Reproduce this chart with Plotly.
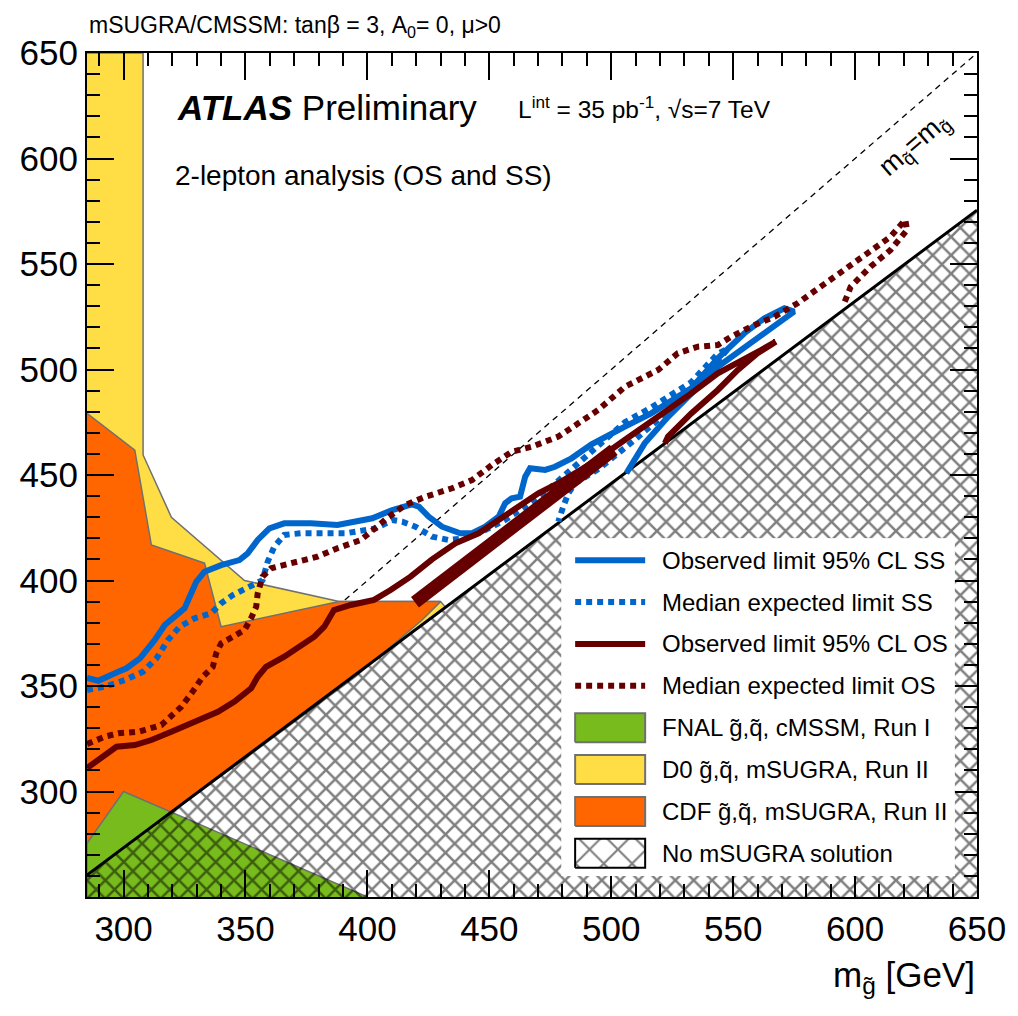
import plotly.graph_objects as go

# ---------------------------------------------------------------------------
# Data: gluino mass (x) vs squark mass (y), both in GeV
# ---------------------------------------------------------------------------
# Earlier exclusion regions (polygons)
d0_x = [285, 308, 308, 319.6, 349.6, 388.4, 430, 432, 285]
d0_y = [650, 650, 459.5, 430, 400, 390, 390, 387.4, 260.4]

cdf_x = [285, 304.6, 311.4, 333.2, 340, 388.4, 430, 422.4, 395, 285]
cdf_y = [479.2, 461.8, 416.8, 408.2, 378.1, 390, 390, 381.3, 354.3, 260.4]

fnal_x = [285, 285, 300, 400]
fnal_y = [250, 275.5, 300, 250]

# Region without a valid mSUGRA solution
nosol_x = [285, 650, 650, 285]
nosol_y = [260.4, 575.5, 250, 250]
bound_x = [285, 650]
bound_y = [260.4, 575.5]

# m_squark = m_gluino reference line
diag = [285, 650]

# Same-sign 2-lepton limits
obs_ss_x = [285, 289.6, 297.8, 301.2, 306.7, 312.8, 316.9, 321, 325, 327.1, 329.8, 333.2,
            340, 347.5, 350.9, 355, 359.8, 365.9, 376.8, 387.7, 395.9, 402, 410.2, 418.3,
            421.1, 425.2, 430.6, 438.1, 442.9, 448.3, 453.8, 456.5, 459.2, 462.6, 464.7,
            466.7, 472.9, 476.9, 483.7, 491.9, 505.6, 516.4, 532.8, 543.7, 554.6, 562.8,
            571, 575, 565.5, 554.6, 543.7, 532.8, 523.3, 513.7, 506.2]
obs_ss_y = [353.8, 352.5, 356.8, 358.4, 363.1, 371.8, 378.9, 382.8, 386.8, 392.3, 399.4, 404.2,
            407.3, 409.7, 412.9, 419.2, 424.7, 427.1, 427.1, 426.3, 427.9, 429.5, 433.4, 436.1,
            435, 430.2, 425.5, 422.4, 422.4, 425.5, 430.2, 436.6, 439, 439.7, 449.2,
            453.2, 452.4, 453.9, 457.9, 464.5, 472.9, 479.2, 491.1, 505.3, 517.2, 524.3,
            529, 527.4, 519.5, 510.8, 501.3, 488.5, 477.6, 465, 450.8]

exp_ss_x = [285, 292.4, 300.5, 308, 313.5, 318.2, 323, 329.1, 336, 340, 344.8, 352.3, 357,
            359.1, 361.8, 365.9, 372.7, 391.1, 403.4, 410.2, 414.3, 419.7, 426.5, 433.3,
            440.2, 448.3, 456.5, 464.7, 471, 480, 492, 505.6, 516.4, 532.8, 543.7, 548,
            540, 530, 510, 495, 485, 482.4, 480.3, 478.3]
exp_ss_y = [348.1, 349.7, 352.8, 356.8, 363.1, 371.8, 378.1, 382.1, 384.5, 389.2, 393.1, 397.1,
            400.2, 408.9, 416, 421.6, 422.4, 422.4, 424.7, 428.7, 427.9, 425.5, 420.8, 419.2,
            420, 423.9, 428.7, 435, 440, 449, 461, 475, 482, 494, 507.5, 510,
            499, 487, 467, 453, 446, 441.3, 435, 427.9]

# Opposite-sign 2-lepton limits
obs_os_x = [285, 291, 297.1, 304.6, 311.4, 319.6, 329.1, 338.7, 345.5, 352.3, 355, 358.4,
            365.9, 371.4, 378.2, 382.3, 386.3, 393.2, 402.7, 409.5, 417.7, 426.5, 436.1,
            445.6, 453.8, 462, 470.1, 478.3, 486.5, 491.9, 505.5, 519.2, 532.8, 543.7,
            554.6, 561.4, 567.5, 560, 551.9, 543.7, 532.8, 523.3, 522]
obs_os_y = [311.1, 316.5, 321.2, 322, 324.4, 328.3, 333.1, 337.8, 342.6, 348.9, 354.4, 359.1,
            363.9, 367.9, 373.4, 378.1, 386, 388.4, 390.8, 395.5, 401.8, 410, 417.6,
            422.4, 428.7, 435, 441.3, 446.1, 451.6, 455.5, 466.6, 477.6, 488.7, 498.2,
            504.5, 509.2, 513.2, 507.7, 499.8, 490.3, 479.2, 468.2, 465]
obs_os_band_x = [419.5, 460, 501]
obs_os_band_y = [389.7, 425.6, 461.9]

exp_os_x = [285, 292.4, 297.8, 306, 315.5, 320.3, 323.7, 327.8, 332.5, 336.6, 338, 340, 344.1,
            349.6, 352.3, 354.4, 355, 357, 360.5, 365.9, 372.7, 379.5, 387.7, 397.3, 400.7,
            408.8, 415.6, 423.8, 434.7, 442.9, 451, 459.2, 467.4, 478.3, 486.5, 494.6,
            505.6, 519.2, 527.3, 535.5, 543.7, 549.1, 557.3, 566.9, 576.4, 585.9, 595.5,
            605, 614.5, 620.6, 621.3, 614.5, 606.3, 598.2, 595.5]
exp_os_y = [322.5, 326, 327.6, 328.3, 331.5, 336.3, 340.2, 346.5, 354.4, 359.1, 365.5, 370.2,
            372.6, 376.5, 382.1, 387.6, 393.9, 401.8, 405.8, 407.3, 409.7, 411.3, 415.3,
            419.2, 422.4, 430.2, 435.8, 439.7, 443.7, 447.6, 454.7, 461, 463.4, 468.2,
            474.5, 480.8, 491.8, 499.8, 507.7, 510.8, 511.6, 515.5, 520.3, 525, 531.4,
            539.2, 547.2, 555.1, 562.9, 570.9, 566.1, 556.6, 548.7, 539.2, 531.4]

x_ticks = [300, 350, 400, 450, 500, 550, 600, 650]
y_ticks = [300, 350, 400, 450, 500, 550, 600, 650]

legend_labels = [
    "Observed limit 95% CL SS",
    "Median expected limit SS",
    "Observed limit 95% CL OS",
    "Median expected limit OS",
    "FNAL g\u0303,q\u0303, cMSSM, Run I",
    "D0 g\u0303,q\u0303, mSUGRA, Run II",
    "CDF g\u0303,q\u0303, mSUGRA, Run II",
    "No mSUGRA solution",
]

# ---------------------------------------------------------------------------
# Styling
# ---------------------------------------------------------------------------
FONT = "Liberation Sans, Arial, Helvetica, sans-serif"
BLUE = "#0066cc"
DRED = "#660000"
ORANGE = "#ff6600"
YELLOW = "#ffdd44"
GREEN = "#77bb1c"
EDGE = "#707070"
DOT = "6px,5px"

fig = go.Figure()

fig.add_trace(go.Scatter(x=diag, y=diag, mode="lines",
                         line=dict(color="black", width=1.3, dash="6px,5px"),
                         hoverinfo="skip"))
for xs, ys, col in [(d0_x, d0_y, YELLOW), (cdf_x, cdf_y, ORANGE), (fnal_x, fnal_y, GREEN)]:
    fig.add_trace(go.Scatter(x=xs, y=ys, mode="lines", fill="toself", fillcolor=col,
                             line=dict(color=EDGE, width=1.5)))
fig.add_trace(go.Scatter(x=nosol_x, y=nosol_y, mode="lines", fill="toself",
                         fillcolor="rgba(0,0,0,0)", line=dict(width=0),
                         fillpattern=dict(shape="x", size=13, solidity=0.35,
                                          fgcolor="black", bgcolor="rgba(0,0,0,0)")))
fig.add_trace(go.Scatter(x=bound_x, y=bound_y, mode="lines",
                         line=dict(color="black", width=3)))

fig.add_trace(go.Scatter(x=obs_ss_x, y=obs_ss_y, mode="lines", line=dict(color=BLUE, width=6)))
fig.add_trace(go.Scatter(x=exp_ss_x, y=exp_ss_y, mode="lines",
                         line=dict(color=BLUE, width=6, dash=DOT)))
fig.add_trace(go.Scatter(x=obs_os_x, y=obs_os_y, mode="lines", line=dict(color=DRED, width=6)))
fig.add_trace(go.Scatter(x=obs_os_band_x, y=obs_os_band_y, mode="lines",
                         line=dict(color=DRED, width=13)))
fig.add_trace(go.Scatter(x=exp_os_x, y=exp_os_y, mode="lines",
                         line=dict(color=DRED, width=6, dash=DOT)))

# ---------------------------------------------------------------------------
# Legend box, drawn on its own small subplot (x2/y2 span 0..1)
# ---------------------------------------------------------------------------
fig.add_trace(go.Scatter(x=[0, 1, 1, 0, 0], y=[0, 0, 1, 1, 0], mode="lines", fill="toself",
                         fillcolor="white", line=dict(width=0), xaxis="x2", yaxis="y2"))
row_top, row_step = 0.935, 0.124
sx0, sx1, half_h = 0.035, 0.213, 0.043
styles = [
    ("line", BLUE, "solid"), ("line", BLUE, DOT), ("line", DRED, "solid"), ("line", DRED, DOT),
    ("box", GREEN, None), ("box", YELLOW, None), ("box", ORANGE, None), ("hatch", None, None),
]
for i, (label, (kind, col, dash)) in enumerate(zip(legend_labels, styles)):
    yc = row_top - row_step * i
    if kind == "line":
        fig.add_trace(go.Scatter(x=[sx0, sx1], y=[yc, yc], mode="lines",
                                 line=dict(color=col, width=6, dash=dash),
                                 xaxis="x2", yaxis="y2"))
    elif kind == "box":
        fig.add_trace(go.Scatter(x=[sx0, sx1, sx1, sx0, sx0],
                                 y=[yc - half_h, yc - half_h, yc + half_h, yc + half_h, yc - half_h],
                                 mode="lines", fill="toself", fillcolor=col,
                                 line=dict(color=EDGE, width=2), xaxis="x2", yaxis="y2"))
    else:
        fig.add_trace(go.Scatter(x=[sx0, sx1, sx1, sx0, sx0],
                                 y=[yc - half_h, yc - half_h, yc + half_h, yc + half_h, yc - half_h],
                                 mode="lines", fill="toself", fillcolor="rgba(0,0,0,0)",
                                 fillpattern=dict(shape="x", size=20, solidity=0.2,
                                                  fgcolor="black", bgcolor="white"),
                                 line=dict(color="black", width=2), xaxis="x2", yaxis="y2"))
    fig.add_annotation(x=0.25, y=yc, xref="x2", yref="y2", text=label, showarrow=False,
                       xanchor="left", yanchor="middle",
                       font=dict(family=FONT, size=24, color="black"))

# ---------------------------------------------------------------------------
# Text labels
# ---------------------------------------------------------------------------
def txt(x, y, s, size, **kw):
    fig.add_annotation(x=x, y=y, xref="paper", yref="paper", text=s, showarrow=False,
                       font=dict(family=FONT, size=size, color="black"), **kw)

txt(0.0, 1.031, "mSUGRA/CMSSM: tan\u03b2 = 3, A<sub>0</sub>= 0, \u03bc>0", 23,
    xanchor="left", yanchor="middle")
txt(0.0985, 0.935, "<b><i>ATLAS</i></b> Preliminary", 35, xanchor="left", yanchor="middle")
txt(0.4815, 0.935, "L<sup>int</sup> = 35 pb<sup>-1</sup>, \u221as=7 TeV", 24.5,
    xanchor="left", yanchor="middle")
txt(0.0963, 0.855, "2-lepton analysis (OS and SS)", 28, xanchor="left", yanchor="middle")
txt(1.0, -0.095, "m<sub>g\u0303</sub> [GeV]", 35, xanchor="right", yanchor="middle")
fig.add_annotation(x=624.6, y=606.4, xref="x", yref="y",
                   text="m<sub>q\u0303</sub>=m<sub>g\u0303</sub>", showarrow=False,
                   textangle=-40.8, font=dict(family=FONT, size=27, color="black"))

axis_common = dict(showgrid=False, zeroline=False, showline=True, linecolor="black",
                   linewidth=2, mirror="allticks", ticks="inside", ticklen=27, tickwidth=2,
                   tickcolor="black", tickfont=dict(family=FONT, size=35, color="black"),
                   minor=dict(dtick=10, tick0=0, ticks="inside", ticklen=13, tickwidth=1.5,
                              tickcolor="black"))

fig.update_layout(
    width=1018, height=1016,
    margin=dict(l=87, r=38, t=53, b=119),
    paper_bgcolor="white", plot_bgcolor="white",
    showlegend=False,
    xaxis=dict(range=[285, 650], tickmode="array", tickvals=x_ticks,
               ticktext=[str(v) for v in x_ticks], **axis_common),
    yaxis=dict(range=[250, 650], tickmode="array", tickvals=y_ticks,
               ticktext=[str(v) for v in y_ticks], **axis_common),
    xaxis2=dict(domain=[0.533, 0.975], range=[0, 1], anchor="y2", visible=False),
    yaxis2=dict(domain=[0.025, 0.425], range=[0, 1], anchor="x2", visible=False),
)

fig.write_html("out.html")
